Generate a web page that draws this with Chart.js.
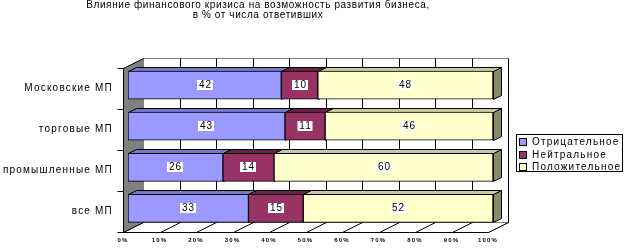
<!DOCTYPE html>
<html>
<head>
<meta charset="utf-8">
<script src="https://cdn.jsdelivr.net/npm/chart.js@4.4.0/dist/chart.umd.min.js"></script>
<style>
  body { margin: 0; background: #fff; }
</style>
</head>
<body>
<canvas id="crisisChart" width="627" height="250"></canvas>
<script>
// categories and series (percent of respondents)
const categories = ["Московские МП", "торговые МП", "промышленные МП", "все МП"];
const negative = [42, 43, 26, 33];
const neutral = [10, 11, 14, 15];
const positive = [48, 46, 60, 52];
const seriesNames = ["Отрицательное", "Нейтральное", "Положительное"];
const titleLines = [
  "Влияние финансового кризиса на возможность развития бизнеса,",
  "в % от числа ответивших",
];

const frontColors = ["#9999ff", "#993366", "#ffffcc"];
const topColors = ["#7878c8", "#6a2447", "#c8c8a0"];
const sideColors = ["#6666aa", "#5a1f3c", "#8a8a6a"];

// depth offsets relative to the bar front plane
const F = { x: -5, y: 3 }; // front axis plane
const W = { x: 15, y: -7 }; // back wall
const B = { x: 8, y: -4 }; // back face of bars

const FONT = "'Liberation Sans', Arial, sans-serif";

const poly = (ctx, pts, fill, stroke) => {
  ctx.beginPath();
  ctx.moveTo(pts[0][0], pts[0][1]);
  for (let i = 1; i < pts.length; i++) ctx.lineTo(pts[i][0], pts[i][1]);
  ctx.closePath();
  if (fill) {
    ctx.fillStyle = fill;
    ctx.fill();
  }
  if (stroke) {
    ctx.strokeStyle = stroke;
    ctx.lineWidth = 1;
    ctx.stroke();
  }
};

const frame3d = {
  id: "frame3d",
  beforeDraw(chart) {
    // spacing for the title (drawn before the datasets)
    chart.ctx.letterSpacing = "0.6px";
  },
  beforeDatasetsDraw(chart) {
    const ctx = chart.ctx;
    const xs = chart.scales.x;
    const ca = chart.chartArea;
    const x0 = Math.round(xs.getPixelForValue(0)) + 0.5;
    const x1 = Math.round(xs.getPixelForValue(100)) + 0.5;
    const top = Math.round(ca.top) + 0.5;
    const bot = Math.round(ca.bottom) + 0.5;
    ctx.save();

    // back wall
    poly(ctx, [[x0 + W.x, top + W.y], [x1 + W.x, top + W.y], [x1 + W.x, bot + W.y], [x0 + W.x, bot + W.y]], "#ffffff", "#808080");
    // floor
    poly(ctx, [[x0 + F.x, bot + F.y], [x0 + W.x, bot + W.y], [x1 + W.x, bot + W.y], [x1 + F.x, bot + F.y]], "#ffffff", "#808080");
    // left wall
    poly(ctx, [[x0 + F.x, top + F.y], [x0 + W.x, top + W.y], [x0 + W.x, bot + W.y], [x0 + F.x, bot + F.y]], "#808080", null);

    // grid lines on the back wall and the floor
    ctx.strokeStyle = "#000000";
    ctx.lineWidth = 1;
    for (let v = 0; v <= 100; v += 10) {
      const x = Math.round(xs.getPixelForValue(v)) + 0.5;
      ctx.beginPath();
      if (v > 0) {
        ctx.moveTo(x + W.x, top + W.y);
        ctx.lineTo(x + W.x, bot + W.y);
      }
      ctx.moveTo(x + F.x, bot + F.y);
      ctx.lineTo(x + W.x, bot + W.y);
      ctx.stroke();
    }

    // front axes
    ctx.beginPath();
    ctx.moveTo(x0 + F.x, top + F.y);
    ctx.lineTo(x0 + W.x, top + W.y);
    ctx.moveTo(x0 + F.x, top + F.y);
    ctx.lineTo(x0 + F.x, bot + F.y);
    ctx.lineTo(x1 + F.x, bot + F.y);
    const band = (ca.bottom - ca.top) / categories.length;
    for (let i = 0; i <= categories.length; i++) {
      const y = Math.round(ca.top + i * band) + 0.5 + F.y;
      ctx.moveTo(x0 + F.x - 6, y);
      ctx.lineTo(x0 + F.x, y);
    }
    ctx.stroke();

    // top and side faces of the bars
    categories.forEach((c, i) => {
      chart.data.datasets.forEach((ds, d) => {
        const el = chart.getDatasetMeta(d).data[i];
        const l = Math.round(Math.min(el.base, el.x)) + 0.5;
        const r = Math.round(Math.max(el.base, el.x)) + 0.5;
        const t = Math.round(el.y - el.height / 2) + 0.5;
        const b = Math.round(el.y + el.height / 2) + 0.5;
        poly(ctx, [[r, t], [r + B.x, t + B.y], [r + B.x, b + B.y], [r, b]], sideColors[d], "#000000");
        poly(ctx, [[l, t], [r, t], [r + B.x, t + B.y], [l + B.x, t + B.y]], topColors[d], "#000000");
      });
    });
    ctx.restore();
  },
  afterDatasetsDraw(chart) {
    const ctx = chart.ctx;
    ctx.save();
    ctx.font = "10px " + FONT;
    ctx.letterSpacing = "1px";
    ctx.textAlign = "center";
    ctx.textBaseline = "middle";
    chart.data.datasets.forEach((ds, d) => {
      chart.getDatasetMeta(d).data.forEach((el, i) => {
        const txt = String(ds.data[i]);
        const cx = Math.round((el.x + el.base) / 2);
        const cy = Math.round(el.y);
        const w = Math.ceil(ctx.measureText(txt).width) + 2;
        ctx.fillStyle = "#ffffff";
        ctx.fillRect(cx - w / 2, cy - 5, w, 10);
        ctx.fillStyle = "#000000";
        ctx.fillText(txt, cx + 0.5, cy + 0.5);
      });
    });
    ctx.restore();
    // spacing for the axis labels (tick labels are drawn after the datasets)
    ctx.letterSpacing = "1.2px";
  },
  afterDraw(chart) {
    // legend box
    const ctx = chart.ctx;
    ctx.save();
    ctx.strokeStyle = "#000000";
    ctx.lineWidth = 1;
    ctx.strokeRect(516.5, 134.5, 106, 37);
    ctx.font = "10px " + FONT;
    ctx.letterSpacing = "1.2px";
    ctx.textBaseline = "middle";
    seriesNames.forEach((name, i) => {
      const y = Math.round(142 + i * 12.5);
      ctx.fillStyle = frontColors[i];
      ctx.fillRect(519.5, y - 3.5, 7, 7);
      ctx.strokeRect(519.5, y - 3.5, 7, 7);
      ctx.fillStyle = "#000000";
      ctx.fillText(name, 532, y + 0.5);
    });
    ctx.restore();
  },
};

const ctx = document.getElementById("crisisChart").getContext("2d");

const chart = new Chart(ctx, {
  type: "bar",
  data: {
    labels: categories,
    datasets: [
      { label: seriesNames[0], data: negative, backgroundColor: frontColors[0] },
      { label: seriesNames[1], data: neutral, backgroundColor: frontColors[1] },
      { label: seriesNames[2], data: positive, backgroundColor: frontColors[2] },
    ].map((ds) => ({
      ...ds,
      borderColor: "#000000",
      borderWidth: 1,
      borderSkipped: false,
      barThickness: 28,
    })),
  },
  options: {
    indexAxis: "y",
    responsive: false,
    animation: false,
    events: [],
    layout: { padding: { left: 0, right: 111, top: 0, bottom: 0 } },
    scales: {
      x: {
        stacked: true,
        min: 0,
        max: 100,
        grid: { display: false, drawTicks: false },
        border: { display: false },
        ticks: {
          z: 1,
          stepSize: 10,
          padding: 8,
          labelOffset: -5,
          color: "#000000",
          font: { family: FONT, size: 6, weight: "bold" },
          callback: (v) => v + "%",
        },
        afterFit: (scale) => {
          scale.height = 14;
        },
      },
      y: {
        stacked: true,
        grid: { display: false, drawTicks: false },
        border: { display: false },
        ticks: {
          z: 1,
          padding: 15,
          labelOffset: 3,
          color: "#000000",
          font: { family: FONT, size: 10 },
        },
        afterFit: (scale) => {
          scale.width = 128;
        },
      },
      // empty axis that keeps room for the depth of the 3D walls
      depth: {
        type: "category",
        position: "right",
        grid: { display: false, drawTicks: false },
        border: { display: false },
        ticks: { display: false },
        afterFit: (scale) => {
          scale.width = 23;
        },
      },
    },
    plugins: {
      legend: { display: false },
      tooltip: { enabled: false },
      title: {
        display: true,
        text: titleLines,
        color: "#000000",
        font: { family: FONT, size: 10, weight: "normal", lineHeight: 1 },
        padding: { top: 0, bottom: 44.5 },
      },
    },
  },
  plugins: [frame3d],
});
</script>
</body>
</html>
